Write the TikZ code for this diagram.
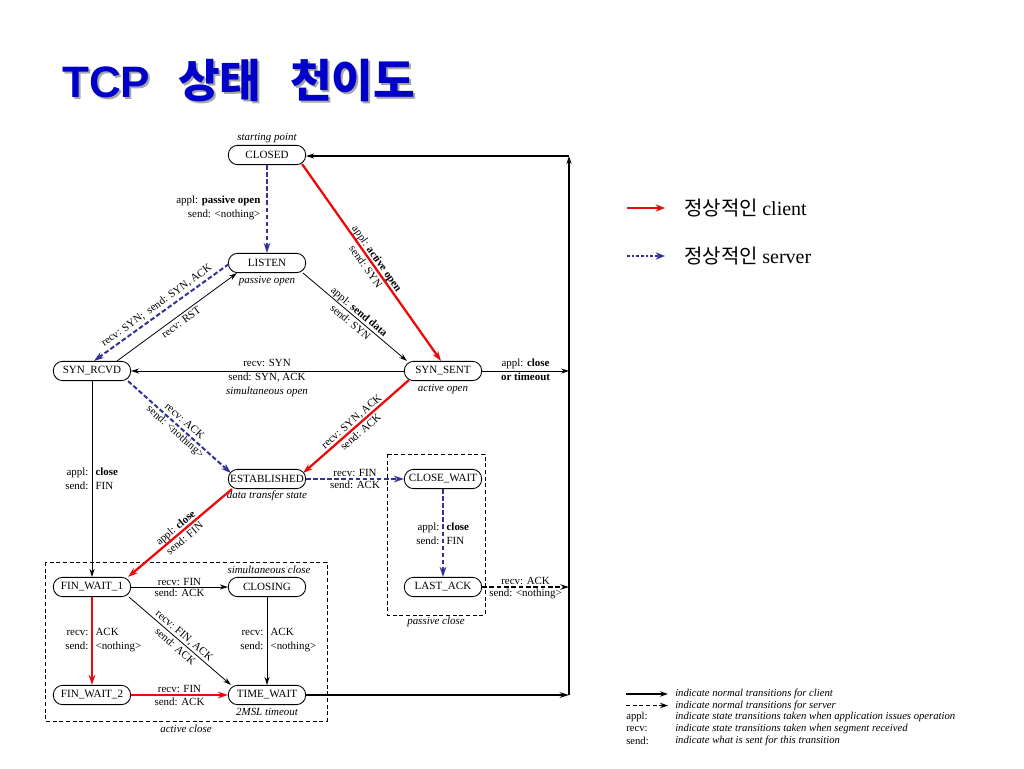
\documentclass[tikz,border=0pt]{standalone}
\usepackage{fontspec}
\setmainfont{Liberation Serif}
\newfontfamily\cjk{Noto Sans CJK KR}
\newfontfamily\lsans{Liberation Sans}
\usetikzlibrary{arrows.meta,calc}
\definecolor{cred}{RGB}{235,10,10}
\definecolor{cblue}{RGB}{50,50,150}
\definecolor{ttl}{RGB}{0,0,200}
\begin{document}
\begin{tikzpicture}[x=0.75pt,y=-0.75pt,
 st/.style={draw,line width=0.65pt,rounded corners=7pt,minimum width=58pt,minimum height=14.5pt,inner sep=1pt,font=\fontsize{8.3}{9.5}\selectfont},
 lab/.style={font=\fontsize{8.2}{10.5}\selectfont,inner sep=1pt,align=center},
 note/.style={font=\fontsize{8.2}{9.5}\selectfont\itshape,inner sep=1pt},
 tarr/.style={line width=0.6pt,-{Stealth[length=6pt,width=3.8pt]}},
 cli/.style={draw=cred,line width=1.7pt,-{Stealth[length=7.5pt,width=5pt]}},
 srv/.style={draw=cblue,line width=1.5pt,dash pattern=on 3.5pt off 1.8pt,-{Stealth[length=7.5pt,width=5pt]}},
 dbox/.style={draw,line width=0.6pt,dash pattern=on 3pt off 2pt},
 rframe/.style={line width=1pt,-{Stealth[length=6pt,width=3.8pt]}},
 legt/.style={font=\fontsize{8}{9}\selectfont\itshape,inner sep=0pt,anchor=west},
 legk/.style={font=\fontsize{8}{9}\selectfont,inner sep=0pt,anchor=west},
 ttlf/.style={inner sep=0pt,anchor=base west},
 kleg/.style={font=\fontsize{15}{18}\selectfont,inner sep=0pt,anchor=west}
]
\fill[white] (0,0) rectangle (1024,768);
\useasboundingbox (0,0) rectangle (1024,768);

% title
\node[ttlf,text=black!35] (tA) at (64,99) {\fontsize{33}{40}\selectfont\lsans\bfseries TCP};
\node[ttlf,text=black!35] (tB) at (180,99) {\fontsize{34}{40}\selectfont\cjk\bfseries 상태};
\node[ttlf,text=black!35] (tC) at (292,99) {\fontsize{34}{40}\selectfont\cjk\bfseries 천이도};
\node[ttlf,text=ttl] (t1) at (62,97) {\fontsize{33}{40}\selectfont\lsans\bfseries TCP};
\node[ttlf,text=ttl] (t2) at (178,97) {\fontsize{34}{40}\selectfont\cjk\bfseries 상태};
\node[ttlf,text=ttl] (t3) at (290,97) {\fontsize{34}{40}\selectfont\cjk\bfseries 천이도};

% dashed group boxes
\draw[dbox] (45,562) rectangle (327,721);
\draw[dbox] (387,454) rectangle (485,615);

% states
\node[st] (closed) at (267,155) {CLOSED};
\node[st] (listen) at (267,263) {LISTEN};
\node[st] (synrcvd) at (92,371) {SYN\_RCVD};
\node[st] (synsent) at (443,371) {SYN\_SENT};
\node[st] (estab) at (267,479) {ESTABLISHED};
\node[st] (closewait) at (443,479) {CLOSE\_WAIT};
\node[st] (lastack) at (443,587) {LAST\_ACK};
\node[st] (fw1) at (92,587) {FIN\_WAIT\_1};
\node[st] (closing) at (267,587) {CLOSING};
\node[st] (fw2) at (92,695) {FIN\_WAIT\_2};
\node[st] (timewait) at (267,695) {TIME\_WAIT};

% notes
\node[note] (n1) at (267,138) {starting point};
\node[note] (n2) at (267,281) {passive open};
\node[note] (n3) at (443,389) {active open};
\node[note] (n4) at (267,392) {simultaneous open};
\node[note] (n5) at (267,496) {data transfer state};
\node[note] (n6) at (269,570) {simultaneous close};
\node[note] (n7) at (267,712) {2MSL timeout};
\node[note] (n8) at (186,729) {active close};
\node[note] (n9) at (436,622) {passive close};

% right frame
\coordinate (rt) at (569,156);
\coordinate (rb) at (569,695);

% CLOSED -> LISTEN
\draw[srv] (closed) -- (listen);
\node[lab,anchor=east,align=right] (l1) at (262,208) {appl: \textbf{passive open}\\send: <nothing>};

% CLOSED -> SYN_SENT
\draw[cli] ($(closed.south east)+(-4,-1)$) -- ($(synsent.north)+(-2,0)$)
  node[lab,sloped,midway] {appl: \textbf{active open}\\send: SYN};

% LISTEN -> SYN_SENT
\draw[tarr] ($(listen.south east)+(-3,0)$) -- ($(synsent.north west)+(3,0)$)
  node[lab,sloped,midway] {appl: \textbf{send data}\\send: SYN};

% LISTEN -> SYN_RCVD
\draw[srv] ($(listen.west)+(1,1)$) -- ($(synrcvd.north)+(2,0)$)
  node[lab,sloped,midway,above=1pt] {recv: SYN;\ \ send: SYN, ACK};
% SYN_RCVD -> LISTEN
\draw[tarr] ($(synrcvd.north east)+(-14,0)$) -- ($(listen.south west)+(9,0)$)
  node[lab,sloped,midway,below=1pt] {recv: RST};

% SYN_SENT -> SYN_RCVD
\draw[tarr] (synsent.west) -- (synrcvd.east);
\node[lab] (l2) at (267,363) {recv: SYN};
\node[lab] (l3) at (267,378) {send: SYN, ACK};

% SYN_RCVD -> ESTABLISHED
\draw[srv] ($(synrcvd.south east)+(-3,0)$) -- ($(estab.west)+(3,-6)$)
  node[lab,sloped,midway] {recv: ACK\\send: <nothing>};

% SYN_SENT -> ESTABLISHED
\draw[cli] ($(synsent.south west)+(5,-1)$) -- ($(estab.east)+(-3,-6)$)
  node[lab,sloped,midway] {recv: SYN, ACK\\send: ACK};

% SYN_SENT -> frame
\draw[tarr] (synsent.east) -- (synsent.east -| rt)
  node[lab,midway,above=0pt] {appl: \textbf{close}}
  node[lab,midway,below=0pt] {\textbf{or timeout}};

% SYN_RCVD -> FIN_WAIT_1
\draw[tarr] (synrcvd) -- (fw1);
\node[lab,anchor=east,align=right] (l4) at (90,479) {appl:\\send:};
\node[lab,anchor=west,align=left] (l5) at (94,479) {\textbf{close}\\FIN};

% ESTABLISHED -> CLOSE_WAIT
\draw[srv] (estab) -- (closewait)
  node[lab,midway,above=0pt] {recv: FIN}
  node[lab,midway,below=0pt] {send: ACK};

% ESTABLISHED -> FIN_WAIT_1
\draw[cli] ($(estab.south west)+(4,0)$) -- ($(fw1.north east)+(-3,0)$)
  node[lab,sloped,midway] {appl: \textbf{close}\\send: FIN};

% CLOSE_WAIT -> LAST_ACK
\draw[srv] (closewait) -- (lastack);
\node[lab,anchor=east,align=right] (l6) at (441,534) {appl:\\send:};
\node[lab,anchor=west,align=left] (l7) at (445,534) {\textbf{close}\\FIN};

% LAST_ACK -> frame
\draw[line width=1.1pt,dash pattern=on 3.5pt off 2pt,-{Stealth[length=6.5pt,width=4pt]}] (lastack.east) -- (lastack.east -| rt)
  node[lab,midway,above=0pt] {recv: ACK}
  node[lab,midway,below=0pt] {send: <nothing>};

% FIN_WAIT_1 -> CLOSING
\draw[tarr] (fw1) -- (closing)
  node[lab,midway,above=0pt] {recv: FIN}
  node[lab,midway,below=0pt] {send: ACK};

% FIN_WAIT_1 -> TIME_WAIT
\draw[tarr] ($(fw1.south east)+(-2,0)$) -- ($(timewait.north west)+(3,0)$)
  node[lab,sloped,midway] {recv: FIN, ACK\\send: ACK};

% FIN_WAIT_1 -> FIN_WAIT_2
\draw[cli] (fw1) -- (fw2);
\node[lab,anchor=east,align=right] (l8) at (90,640) {recv:\\send:};
\node[lab,anchor=west,align=left] (l9) at (94,640) {ACK\\<nothing>};

% CLOSING -> TIME_WAIT
\draw[tarr] (closing) -- (timewait);
\node[lab,anchor=east,align=right] (l10) at (265,640) {recv:\\send:};
\node[lab,anchor=west,align=left] (l11) at (269,640) {ACK\\<nothing>};

% FIN_WAIT_2 -> TIME_WAIT
\draw[cli] (fw2) -- (timewait)
  node[lab,midway,above=0pt] {recv: FIN}
  node[lab,midway,below=0pt] {send: ACK};

% TIME_WAIT -> frame
\draw[line width=1.4pt,-{Stealth[length=7pt,width=4.2pt]}] (timewait.east) -- (timewait.east -| rt);

% frame back to CLOSED
\draw[rframe] (rb) -- (rt);
\draw[rframe] (rt) -- (rt -| closed.east);

% legend top right
\coordinate (ga1) at (627,208);
\coordinate (ga2) at (665,208);
\coordinate (gb1) at (627,256);
\coordinate (gb2) at (665,256);
\draw[draw=cred,line width=1.8pt,-{Stealth[length=7pt,width=5.5pt]}] (ga1) -- (ga2);
\draw[draw=cblue,line width=1.8pt,dash pattern=on 2pt off 1.5pt,-{Stealth[length=7pt,width=5.5pt]}] (gb1) -- (gb2);
\node[kleg] (k1) at (684,208) {\cjk 정상적인 \rmfamily client};
\node[kleg] (k2) at (684,256) {\cjk 정상적인 \rmfamily server};

% legend bottom right
\coordinate (la1) at (626,694);
\coordinate (la2) at (668,694);
\coordinate (lb1) at (626,705.5);
\coordinate (lb2) at (668,705.5);
\draw[line width=1.1pt,-{Stealth[length=6pt,width=4pt]}] (la1) -- (la2);
\draw[line width=1.1pt,dash pattern=on 3pt off 2pt,-{Stealth[length=6pt,width=4pt]}] (lb1) -- (lb2);
\node[legt] (e1) at (675,694) {indicate normal transitions for client};
\node[legt] (e2) at (675,705.5) {indicate normal transitions for server};
\node[legk] (e3k) at (626,717) {appl:};
\node[legt] (e3) at (675,717) {indicate state transitions taken when application issues operation};
\node[legk] (e4k) at (626,729) {recv:};
\node[legt] (e4) at (675,729) {indicate state transitions taken when segment received};
\node[legk] (e5k) at (626,741) {send:};
\node[legt] (e5) at (675,741) {indicate what is sent for this transition};
\end{tikzpicture}
\end{document}
